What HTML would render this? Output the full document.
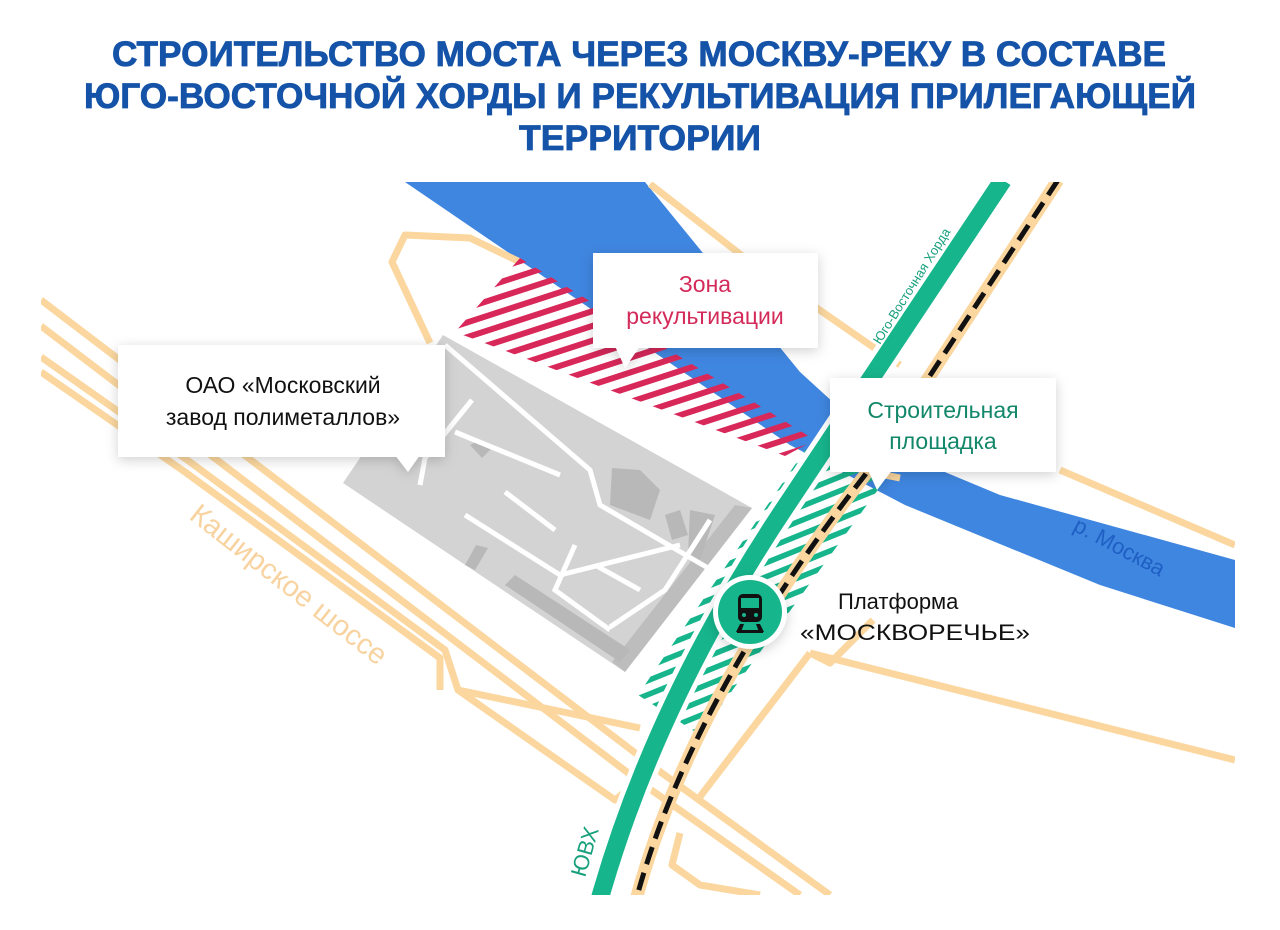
<!DOCTYPE html>
<html><head><meta charset="utf-8"><style>
html,body{margin:0;padding:0;background:#fff;}
svg{display:block;}
text{font-family:"Liberation Sans","DejaVu Sans",sans-serif;}
</style></head><body>
<svg width="1280" height="930" viewBox="0 0 1280 930" xmlns="http://www.w3.org/2000/svg">
<defs>
<pattern id="red" width="14" height="14" patternUnits="userSpaceOnUse" patternTransform="rotate(-18)">
<rect width="14" height="6" fill="#d8285a"/></pattern>
<pattern id="grn" width="13" height="13" patternUnits="userSpaceOnUse" patternTransform="rotate(-22)">
<rect width="13" height="5.5" fill="#17b58c"/></pattern>
<filter id="sh" x="-20%" y="-20%" width="140%" height="150%"><feDropShadow dx="0" dy="3" stdDeviation="6" flood-color="#000" flood-opacity="0.18"/></filter>
<clipPath id="map"><rect x="41" y="182" width="1194" height="713"/></clipPath>
</defs>
<g font-weight="bold" fill="#1553a8" font-size="35" text-anchor="middle" stroke="#1553a8" stroke-width="0.8">
<text x="639" y="66" textLength="1054" lengthAdjust="spacingAndGlyphs">СТРОИТЕЛЬСТВО МОСТА ЧЕРЕЗ МОСКВУ-РЕКУ В СОСТАВЕ</text>
<text x="640" y="108" textLength="1112" lengthAdjust="spacingAndGlyphs">ЮГО-ВОСТОЧНОЙ ХОРДЫ И РЕКУЛЬТИВАЦИЯ ПРИЛЕГАЮЩЕЙ</text>
<text x="640" y="150" textLength="242" lengthAdjust="spacingAndGlyphs">ТЕРРИТОРИИ</text>
</g>
<g clip-path="url(#map)">
<polygon points="405,182 645,182 800,372 880,445 1000,495 1235,560 1235,628 1100,585 905,505 790,445" fill="#3f86e0"/>
<g fill="none" stroke="#fbd79f" stroke-width="7" stroke-linejoin="round">
<path d="M41,300 L655,768 L830,895"/>
<path d="M41,326 L640,782 L800,895"/>
<path d="M41,357 L190,462 L445,650 L458,690 L615,800 L640,780"/>
<path d="M41,372 L185,472 L440,658 L440,690"/>
<path d="M458,690 L640,728"/>
<path d="M680,833 L672,865 L700,885 L760,895"/>
<path d="M810,653 L1235,760"/>
<path d="M810,653 L699,798"/>
<path d="M810,653 L830,663 L873,620"/>
<path d="M430,343 L392,262 L405,235 L470,238 L520,262"/>
<path d="M650,184 L745,258 L870,345 L900,365"/>
<path d="M1060,470 L1235,545"/>
<path d="M860,470 L900,478"/>
</g>
<polygon points="443,335 343,483 625,672 752,508" fill="#d3d3d3"/>
<polygon points="752,508 625,672 612,662 735,505" fill="#bdbdbd"/>
<g fill="#b8b8b8">
<polygon points="612,468 640,470 660,490 650,520 610,505"/>
<polygon points="665,515 680,510 688,535 672,540"/>
<polygon points="690,510 715,515 700,560 688,555"/>
<polygon points="505,585 515,575 630,650 620,662"/>
<polygon points="470,445 480,440 492,448 482,458"/>
<polygon points="476,545 488,548 475,570 465,565"/>
</g>
<g stroke="#fff" stroke-width="5" fill="none">
<path d="M445,345 L590,470 L600,505 L720,575"/>
<path d="M472,400 L425,458 L420,485"/>
<path d="M455,432 L560,475"/>
<path d="M505,492 L555,530"/>
<path d="M465,515 L560,575 L680,545"/>
<path d="M575,545 L555,590 L610,630"/>
<path d="M595,565 L640,590"/>
<path d="M710,520 L665,590 L610,627"/>
</g>
<polygon points="520,258 455,332 785,456 815,440" fill="url(#red)"/>
<polygon points="805,450 885,480 700,735 638,695" fill="url(#grn)"/>
<path d="M1003,180 L790,500 Q 655,700 598,905" stroke="#fff" stroke-width="28" fill="none"/>
<path d="M1003,180 L790,500 Q 655,700 598,905" stroke="#17b58c" stroke-width="18" fill="none"/>
<path d="M1058,180 L865,475 Q 690,700 636,900" stroke="#fbd79f" stroke-width="13" fill="none"/>
<path d="M1058,180 L865,475 Q 690,700 636,900" stroke="#111" stroke-width="5" stroke-dasharray="18,9" fill="none"/>
</g>
<circle cx="750" cy="612" r="37" fill="#fff" filter="url(#sh)"/>
<circle cx="750" cy="612" r="32" fill="#17b58c"/>
<g fill="#111">
<rect x="738" y="594" width="24" height="28" rx="5"/>
<rect x="741" y="598" width="18" height="10" fill="#17b58c"/>
<circle cx="744" cy="615" r="2" fill="#17b58c"/><circle cx="756" cy="615" r="2" fill="#17b58c"/>
<polygon points="740,624 744,624 741,632 736,632"/>
<polygon points="756,624 760,624 764,632 759,632"/>
<rect x="737" y="630" width="26" height="3"/>
</g>
<g filter="url(#sh)" fill="#fff">
<rect x="118" y="345" width="327" height="112"/>
<polygon points="395,455 420,455 408,472"/>
<rect x="593" y="253" width="225" height="95"/>
<polygon points="615,346 640,346 625,368"/>
<rect x="830" y="378" width="226" height="94"/>
<polygon points="868,470 892,470 877,490"/>
</g>
<g font-size="23" text-anchor="middle">
<text x="283" y="393" fill="#111">ОАО «Московский</text>
<text x="283" y="425" fill="#111">завод полиметаллов»</text>
<text x="705" y="292" fill="#d42a5a">Зона</text>
<text x="705" y="324" fill="#d42a5a">рекультивации</text>
<text x="943" y="418" fill="#12876a">Строительная</text>
<text x="943" y="449" fill="#12876a">площадка</text>
</g>
<text x="838" y="609" font-size="22" fill="#111">Платформа</text>
<text x="800" y="640" font-size="22" fill="#111" textLength="230" lengthAdjust="spacingAndGlyphs">«МОСКВОРЕЧЬЕ»</text>
<text transform="translate(880,345) rotate(-58)" font-size="13" fill="#17a07c">Юго-Восточная Хорда</text>
<text transform="translate(585,878) rotate(-74)" font-size="22" fill="#17a07c">ЮВХ</text>
<text transform="translate(188,518) rotate(38)" font-size="29" fill="#f8d3a0">Каширское шоссе</text>
<text transform="translate(1072,530) rotate(28)" font-size="22" fill="#1f5fc4">р. Москва</text>
</svg>
</body></html>
